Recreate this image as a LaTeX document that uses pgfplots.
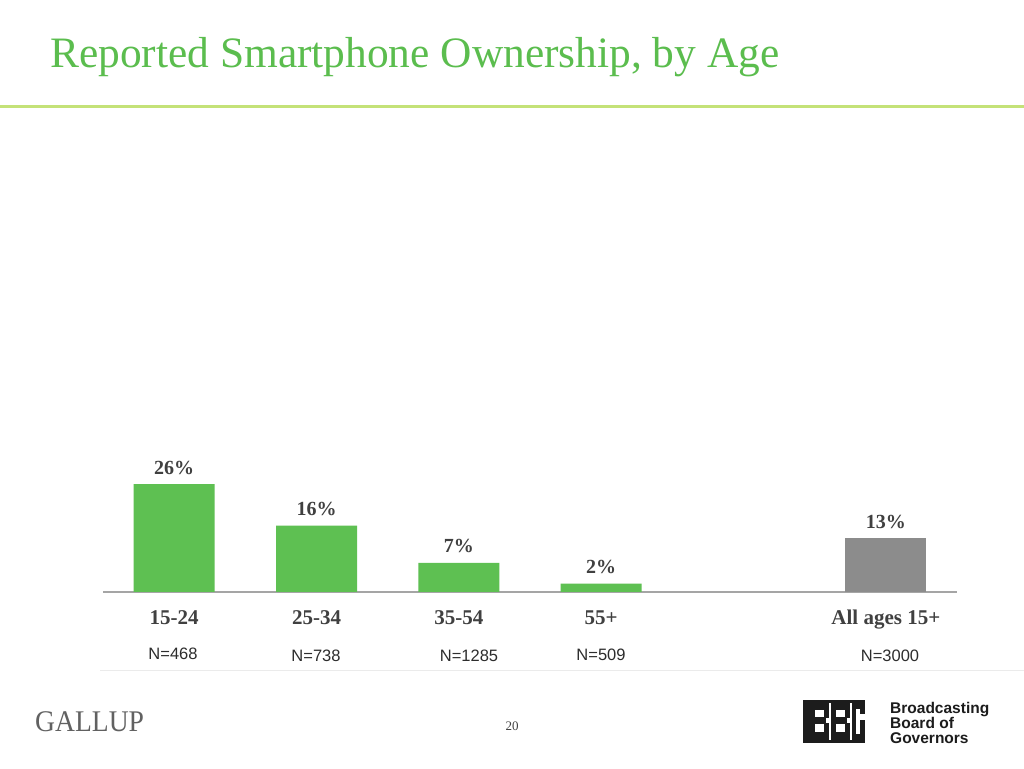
\documentclass[border=0pt]{standalone}
\usepackage{pgfplots}
\pgfplotsset{compat=1.18}
\usepackage{fontspec}
\setmainfont{Liberation Serif}
\newfontfamily\sansf{Liberation Sans}

\definecolor{titlegreen}{RGB}{91,189,78}
\definecolor{rulegreen}{RGB}{196,226,120}
\definecolor{bargreen}{RGB}{94,192,82}
\definecolor{bargray}{RGB}{140,140,140}
\definecolor{axisgray}{RGB}{165,165,165}
\definecolor{textgray}{RGB}{64,64,64}
\definecolor{ntext}{RGB}{45,45,45}
\definecolor{logoblack}{RGB}{28,28,28}

\begin{document}
\begin{tikzpicture}
\path[use as bounding box, fill=white] (0,0) rectangle (1024pt,768pt);

% title and rule
\node[anchor=base west, inner sep=0, text=titlegreen, font=\fontsize{43.4}{50}\selectfont]
  at (50pt,700pt) {Reported Smartphone Ownership, by Age};
\draw[rulegreen, line width=3pt] (0,661pt) -- (1024pt,661pt);

\begin{axis}[
  at={(103pt,176pt)}, anchor=south west,
  scale only axis, width=854pt, height=124.5pt,
  xmin=-0.5, xmax=5.5, ymin=0, ymax=30,
  enlargelimits=false,
  axis x line*=bottom, axis y line=none,
  x axis line style={draw=axisgray, line width=1.2pt, -},
  ytick=\empty,
  xtick={0,1,2,3,5},
  xticklabels={15-24,25-34,35-54,55+,All ages 15+},
  major tick length=0pt,
  xticklabel style={anchor=base, yshift=-33pt, text=textgray,
    font=\bfseries\fontsize{21}{24}\selectfont},
  /pgf/number format/assume math mode=true,
  ybar, bar width=81pt, clip=false,
  nodes near coords={\pgfmathprintnumber{\pgfplotspointmeta}\%},
  every node near coord/.append style={anchor=base, yshift=10pt, text=textgray,
    font=\bfseries\fontsize{20}{24}\selectfont},
]
\addplot[fill=bargreen, draw=none, bar shift=0pt] coordinates {(0,26) (1,16) (2,7) (3,2)};
\addplot[fill=bargray, draw=none, bar shift=0pt] coordinates {(5,13)};
\end{axis}

% sample sizes
\begin{scope}[every node/.style={font=\sansf\fontsize{16.5}{18}\selectfont, text=ntext}]
\node at (173pt,114pt) {N=468};
\node at (316pt,112pt) {N=738};
\node at (469pt,112pt) {N=1285};
\node at (601pt,113pt) {N=509};
\node at (890pt,112pt) {N=3000};
\end{scope}
\draw[black!8, line width=1pt] (100pt,98pt) -- (1024pt,98pt);

% footer
\node[anchor=base west, inner sep=0, text=black!62, font=\fontsize{30}{32}\selectfont]
  at (35pt,37pt) {\scalebox{0.92}[1]{GALLUP}};
\node[anchor=base, inner sep=0, text=black!75, font=\fontsize{13}{14}\selectfont]
  at (512pt,38pt) {20};

% BBG logo, in pixel coordinates
\begin{scope}[x=1pt, y=-1pt, shift={(0,-768)}]
\fill[logoblack] (803,700) rectangle (865,743);
\fill[white] (815,710) rectangle (824,717);
\fill[white] (815,724) rectangle (824,732);
\fill[white] (836,710) rectangle (845,717);
\fill[white] (836,724) rectangle (845,732);
\fill[white] (828.5,703) rectangle (830.5,740);
\fill[white] (826,718) rectangle (830.5,723);
\fill[white] (849.5,703) rectangle (851.5,740);
\fill[white] (847,718) rectangle (851.5,723);
\fill[white] (856,709) rectangle (860,734);
\fill[white] (860,714) rectangle (865,720);
\end{scope}
\begin{scope}[every node/.style={anchor=base west, inner sep=0, text=logoblack,
    font=\sansf\bfseries\fontsize{15.5}{16}\selectfont}]
\node at (890pt,55pt) {Broadcasting};
\node at (890pt,40pt) {Board of};
\node at (890pt,25pt) {Governors};
\end{scope}
\end{tikzpicture}
\end{document}
